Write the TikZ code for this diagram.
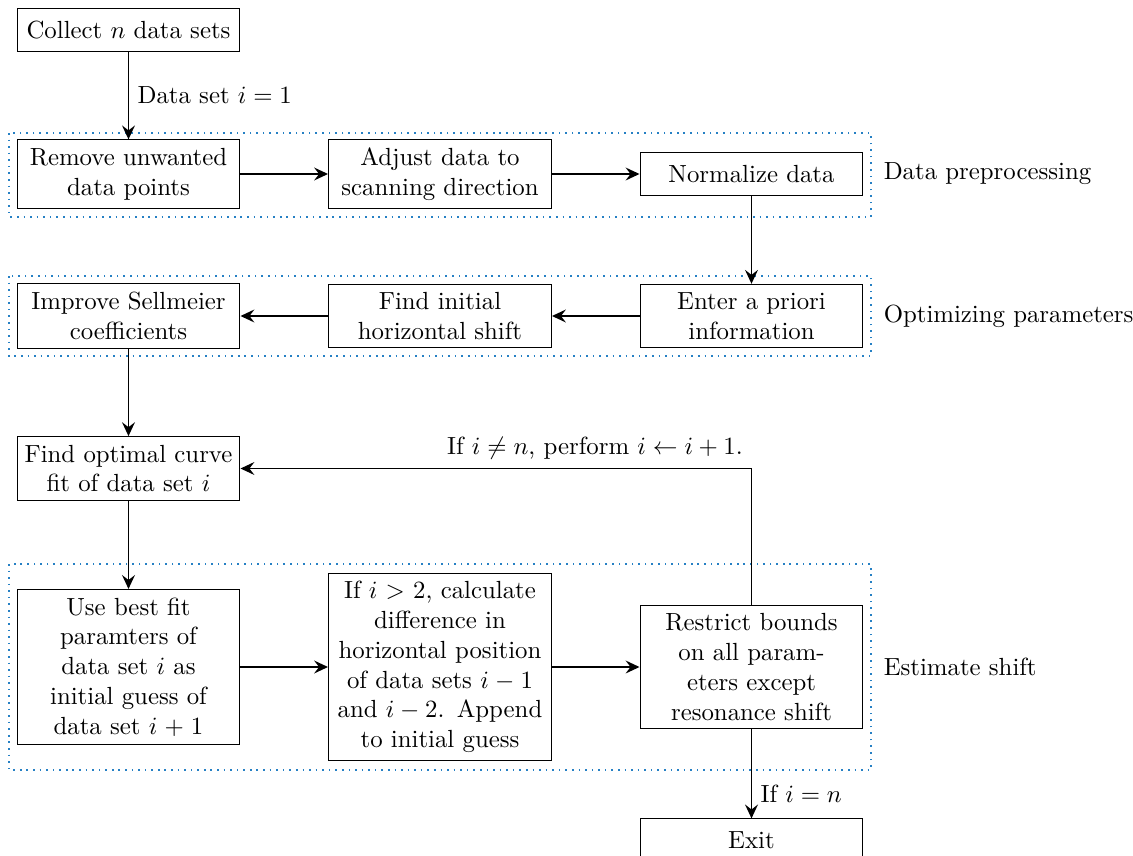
\documentclass[tikz,border=0pt]{standalone}
\usepackage{amsmath}
\usetikzlibrary{arrows.meta}
\definecolor{grpblue}{RGB}{38,128,196}
\begin{document}
\begin{tikzpicture}[x=0.4032pt,y=-0.4032pt,
  box/.style={draw, text width=85pt, align=center, inner xsep=2.45pt, inner ysep=3.33pt, line width=0.4pt},
  onebox/.style={box, minimum height=17pt},
  group/.style={draw=grpblue, dotted, line width=0.65pt},
  arr/.style={-{Stealth[length=5.6pt,width=5.2pt,inset=2pt]}, line width=0.65pt},
  grouplabel/.style={anchor=west}
]
\useasboundingbox (0,0) rectangle (1133,856);

\draw[group] (9,133) rectangle (871,217);
\draw[group] (9,276) rectangle (871,356);
\draw[group] (9,564) rectangle (871,770);

\node[onebox] (collect) at (128.5,30) {Collect $n$ data sets};
\node[box] (remove) at (128.5,174) {Remove unwanted\\data points};
\node[box] (adjust) at (440,174) {Adjust data to\\scanning direction};
\node[onebox] (normalize) at (751.5,174) {Normalize data};
\node[box] (enter) at (751.5,316) {Enter a priori\\information};
\node[box] (findinit) at (440,316) {Find initial\\horizontal shift};
\node[box] (improve) at (128.5,316) {Improve Sellmeier\\coefficients};
\node[box] (findopt) at (128.5,468.5) {\mbox{Find optimal curve}\\fit of data set $i$};
\node[box] (usebest) at (128.5,667) {Use best fit\\paramters of\\data set $i$ as\\initial guess of\\data set $i+1$};
\node[box] (diff) at (440,667) {If $i>2$, calculate\\difference in\\horizontal position\\of data sets $i-1$\\and $i-2$. Append\\to initial guess};
\node[box] (restrict) at (751.5,667) {Restrict bounds\\on all param-\\eters except\\resonance shift};
\node[onebox] (exit) at (751.5,840) {Exit};

\node[grouplabel] (lblpre) at (875,174) {Data preprocessing};
\node[grouplabel] (lblopt) at (875,316) {Optimizing parameters};
\node[grouplabel] (lblest) at (875,667) {Estimate shift};

\draw[arr] (collect) -- node[right] (lbldata) {Data set $i=1$} (remove);
\draw[arr] (remove) -- (adjust);
\draw[arr] (adjust) -- (normalize);
\draw[arr] (normalize) -- (enter);
\draw[arr] (enter) -- (findinit);
\draw[arr] (findinit) -- (improve);
\draw[arr] (improve) -- (findopt);
\draw[arr] (findopt) -- (usebest);
\draw[arr] (usebest) -- (diff);
\draw[arr] (diff) -- (restrict);
\draw[arr] (restrict) -- node[right, pos=0.72] (lblexit) {If $i=n$} (exit);
\coordinate (corner) at (restrict.north |- findopt.east);
\draw[arr] (restrict.north) -- (corner) -- (findopt.east);
\node[above left] (lblloop) at (corner) {If $i\neq n$, perform $i\leftarrow i+1$.};
\end{tikzpicture}
\end{document}
